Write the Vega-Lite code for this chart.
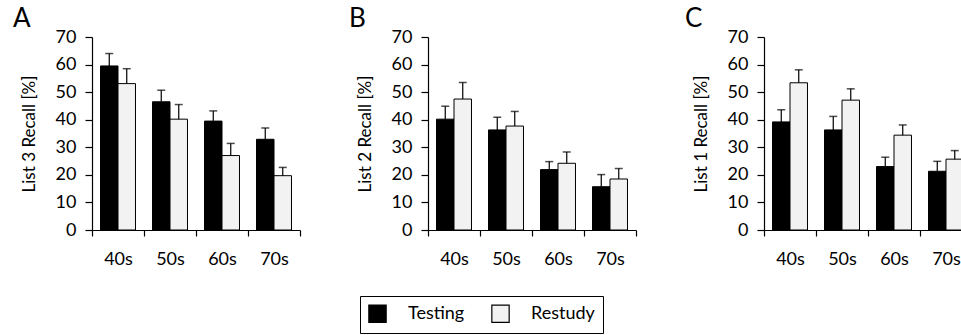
{
  "$schema": "https://vega.github.io/schema/vega-lite/v6.json",
  "background": "white",
  "padding": {"left": 13, "top": 6, "right": 0, "bottom": 0},
  "spacing": 48,
  "data": {
    "values": [
      {"panel": "A", "age": "40s", "condition": "Testing", "value": 59.5, "err": 64.0},
      {"panel": "A", "age": "50s", "condition": "Testing", "value": 46.5, "err": 50.7},
      {"panel": "A", "age": "60s", "condition": "Testing", "value": 39.5, "err": 43.2},
      {"panel": "A", "age": "70s", "condition": "Testing", "value": 32.9, "err": 37.0},
      {"panel": "A", "age": "40s", "condition": "Restudy", "value": 53.1, "err": 58.5},
      {"panel": "A", "age": "50s", "condition": "Restudy", "value": 40.2, "err": 45.5},
      {"panel": "A", "age": "60s", "condition": "Restudy", "value": 27.0, "err": 31.4},
      {"panel": "A", "age": "70s", "condition": "Restudy", "value": 19.7, "err": 22.7},
      {"panel": "B", "age": "40s", "condition": "Testing", "value": 40.2, "err": 44.9},
      {"panel": "B", "age": "50s", "condition": "Testing", "value": 36.3, "err": 40.9},
      {"panel": "B", "age": "60s", "condition": "Testing", "value": 21.9, "err": 24.8},
      {"panel": "B", "age": "70s", "condition": "Testing", "value": 15.7, "err": 20.1},
      {"panel": "B", "age": "40s", "condition": "Restudy", "value": 47.5, "err": 53.5},
      {"panel": "B", "age": "50s", "condition": "Restudy", "value": 37.7, "err": 43.0},
      {"panel": "B", "age": "60s", "condition": "Restudy", "value": 24.2, "err": 28.3},
      {"panel": "B", "age": "70s", "condition": "Restudy", "value": 18.5, "err": 22.3},
      {"panel": "C", "age": "40s", "condition": "Testing", "value": 39.2, "err": 43.6},
      {"panel": "C", "age": "50s", "condition": "Testing", "value": 36.3, "err": 41.2},
      {"panel": "C", "age": "60s", "condition": "Testing", "value": 23.0, "err": 26.4},
      {"panel": "C", "age": "70s", "condition": "Testing", "value": 21.3, "err": 24.9},
      {"panel": "C", "age": "40s", "condition": "Restudy", "value": 53.4, "err": 58.1},
      {"panel": "C", "age": "50s", "condition": "Restudy", "value": 47.1, "err": 51.2},
      {"panel": "C", "age": "60s", "condition": "Restudy", "value": 34.4, "err": 38.1},
      {"panel": "C", "age": "70s", "condition": "Restudy", "value": 25.7, "err": 28.8}
    ]
  },
  "hconcat": [
    {
      "width": 208, "height": 193,
      "title": {"text": "A"},
      "transform": [{"filter": "datum.panel == 'A'"}],
      "encoding": {
        "x": {"field": "age", "type": "nominal", "title": null, "scale": {"paddingInner": 0, "paddingOuter": 0}},
        "xOffset": {"field": "condition", "type": "nominal", "sort": ["Testing", "Restudy"], "scale": {"paddingInner": 0, "paddingOuter": 0.486}}
      },
      "layer": [
        {"mark": {"type": "bar", "stroke": "black", "strokeWidth": 1}, "encoding": {
          "y": {"field": "value", "type": "quantitative", "scale": {"domain": [0, 70]}, "axis": {"values": [0,10,20,30,40,50,60,70], "title": "List 3 Recall [%]"}},
          "color": {"field": "condition", "type": "nominal", "sort": ["Testing", "Restudy"], "scale": {"domain": ["Testing", "Restudy"], "range": ["#000000", "#f2f2f2"]}, "legend": {"title": null}}
        }},
        {"mark": {"type": "rule", "color": "black", "strokeWidth": 1.2}, "encoding": {"y": {"field": "value", "type": "quantitative", "axis": {"values": [0,10,20,30,40,50,60,70], "title": "List 3 Recall [%]"}}, "y2": {"field": "err"}}},
        {"mark": {"type": "tick", "color": "black", "size": 8, "thickness": 1.5}, "encoding": {"y": {"field": "err", "type": "quantitative", "axis": {"values": [0,10,20,30,40,50,60,70], "title": "List 3 Recall [%]"}}}}
      ]
    },
    {
      "width": 208, "height": 193,
      "title": {"text": "B"},
      "transform": [{"filter": "datum.panel == 'B'"}],
      "encoding": {
        "x": {"field": "age", "type": "nominal", "title": null, "scale": {"paddingInner": 0, "paddingOuter": 0}},
        "xOffset": {"field": "condition", "type": "nominal", "sort": ["Testing", "Restudy"], "scale": {"paddingInner": 0, "paddingOuter": 0.486}}
      },
      "layer": [
        {"mark": {"type": "bar", "stroke": "black", "strokeWidth": 1}, "encoding": {
          "y": {"field": "value", "type": "quantitative", "scale": {"domain": [0, 70]}, "axis": {"values": [0,10,20,30,40,50,60,70], "title": "List 2 Recall [%]"}},
          "color": {"field": "condition", "type": "nominal", "sort": ["Testing", "Restudy"], "scale": {"domain": ["Testing", "Restudy"], "range": ["#000000", "#f2f2f2"]}, "legend": {"title": null}}
        }},
        {"mark": {"type": "rule", "color": "black", "strokeWidth": 1.2}, "encoding": {"y": {"field": "value", "type": "quantitative", "axis": {"values": [0,10,20,30,40,50,60,70], "title": "List 2 Recall [%]"}}, "y2": {"field": "err"}}},
        {"mark": {"type": "tick", "color": "black", "size": 8, "thickness": 1.5}, "encoding": {"y": {"field": "err", "type": "quantitative", "axis": {"values": [0,10,20,30,40,50,60,70], "title": "List 2 Recall [%]"}}}}
      ]
    },
    {
      "width": 208, "height": 193,
      "title": {"text": "C"},
      "transform": [{"filter": "datum.panel == 'C'"}],
      "encoding": {
        "x": {"field": "age", "type": "nominal", "title": null, "scale": {"paddingInner": 0, "paddingOuter": 0}},
        "xOffset": {"field": "condition", "type": "nominal", "sort": ["Testing", "Restudy"], "scale": {"paddingInner": 0, "paddingOuter": 0.486}}
      },
      "layer": [
        {"mark": {"type": "bar", "stroke": "black", "strokeWidth": 1}, "encoding": {
          "y": {"field": "value", "type": "quantitative", "scale": {"domain": [0, 70]}, "axis": {"values": [0,10,20,30,40,50,60,70], "title": "List 1 Recall [%]"}},
          "color": {"field": "condition", "type": "nominal", "sort": ["Testing", "Restudy"], "scale": {"domain": ["Testing", "Restudy"], "range": ["#000000", "#f2f2f2"]}, "legend": {"title": null}}
        }},
        {"mark": {"type": "rule", "color": "black", "strokeWidth": 1.2}, "encoding": {"y": {"field": "value", "type": "quantitative", "axis": {"values": [0,10,20,30,40,50,60,70], "title": "List 1 Recall [%]"}}, "y2": {"field": "err"}}},
        {"mark": {"type": "tick", "color": "black", "size": 8, "thickness": 1.5}, "encoding": {"y": {"field": "err", "type": "quantitative", "axis": {"values": [0,10,20,30,40,50,60,70], "title": "List 1 Recall [%]"}}}}
      ]
    }
  ],
  "config": {
    "font": "Lato",
    "view": {"stroke": null},
    "title": {"anchor": "start", "frame": "bounds", "fontSize": 26, "fontWeight": "normal", "color": "black", "font": "Lato", "dx": -7, "offset": -4},
    "axis": {"grid": false, "domainColor": "black", "tickColor": "black", "labelColor": "black", "titleColor": "black", "labelFont": "Lato", "titleFont": "Lato", "labelFontSize": 18, "titleFontSize": 17, "titleFontWeight": "normal", "domainWidth": 1.2, "tickWidth": 1.2, "labelOverlap": false},
    "axisY": {"tickSize": 7, "labelPadding": 9, "titlePadding": 17},
    "axisX": {"tickBand": "extent", "tickSize": 6, "labelPadding": 14, "labelAngle": 0},
    "legend": {"orient": "none", "legendX": 268, "legendY": 259, "direction": "horizontal", "strokeColor": "black", "padding": 8, "symbolType": "square", "symbolSize": 300, "symbolStrokeColor": "black", "symbolStrokeWidth": 1.2, "labelFontSize": 18, "labelFont": "Lato", "labelColor": "black", "labelOffset": 21, "columnPadding": 24, "fillColor": "white"}
  }
}
